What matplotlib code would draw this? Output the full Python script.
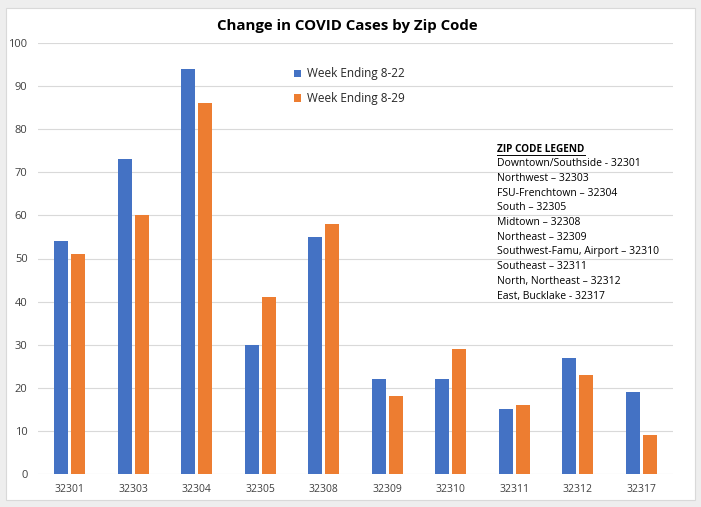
import matplotlib
matplotlib.use("Agg")
import matplotlib.pyplot as plt
import numpy as np
from matplotlib.patches import Rectangle

plt.rcParams['font.family'] = ['Open Sans', 'DejaVu Sans']

zips = ["32301", "32303", "32304", "32305", "32308", "32309", "32310", "32311", "32312", "32317"]
week_822 = [54, 73, 94, 30, 55, 22, 22, 15, 27, 19]
week_829 = [51, 60, 86, 41, 58, 18, 29, 16, 23, 9]

zip_legend = [
    "Downtown/Southside - 32301",
    "Northwest \u2013 32303",
    "FSU-Frenchtown \u2013 32304",
    "South \u2013 32305",
    "Midtown \u2013 32308",
    "Northeast \u2013 32309",
    "Southwest-Famu, Airport \u2013 32310",
    "Southeast \u2013 32311",
    "North, Northeast \u2013 32312",
    "East, Bucklake - 32317",
]

blue = "#4472c4"
orange = "#ed7d31"

fig = plt.figure(figsize=(7.01, 5.07), dpi=100)
fig.patch.set_facecolor("#eeeeee")
# white chart panel behind everything
fig.patches.append(Rectangle((6/701, 7/507), 689/701, 492/507, transform=fig.transFigure,
                             facecolor="white", edgecolor="#d9d9d9", lw=0.8, zorder=-5))

ax = fig.add_axes([38/701, 1 - 474/507, 635/701, (474 - 43)/507])
ax.set_facecolor("none")

x = np.arange(len(zips))
w = 0.215
ax.bar(x - 0.135, week_822, w, color=blue, label="Week Ending 8-22", zorder=3)
ax.bar(x + 0.135, week_829, w, color=orange, label="Week Ending 8-29", zorder=3)

ax.set_xlim(-0.5, len(zips) - 0.5)
ax.set_ylim(0, 100)
ax.set_yticks(range(0, 101, 10))
ax.set_xticks(x)
ax.set_xticklabels(zips)
ax.grid(axis="y", color="#d9d9d9", lw=0.8, zorder=0)
ax.set_axisbelow(True)
for s in ax.spines.values():
    s.set_visible(False)
ax.tick_params(length=0, labelsize=7.5, colors="#404040")
ax.tick_params(axis="y", labelsize=8)
ax.tick_params(axis="x", pad=7)
ax.tick_params(axis="y", pad=7.5)

fig.text(0.495, 1 - 26/507, "Change in COVID Cases by Zip Code", ha="center", va="center",
         fontsize=10.8, fontweight="bold", color="#000000")

leg = ax.legend(loc="upper left", bbox_to_anchor=(0.386, 0.968), frameon=False,
                fontsize=8.5, handlelength=0.6, handleheight=0.6, handletextpad=0.5,
                labelspacing=1.0)
for t in leg.get_texts():
    t.set_color("#262626")

y0 = 1 - 149/507
fig.text(497/701, y0, "ZIP CODE LEGEND", fontsize=7.2, fontweight="bold", va="center",
         color="#000000")
ul_y = y0 - 6/507
fig.lines.append(plt.Line2D([497/701, 585/701], [ul_y, ul_y], transform=fig.transFigure,
                            color="black", lw=0.7))
for i, s in enumerate(zip_legend):
    fig.text(497/701, y0 - (i + 1) * 14.7/507, s, fontsize=7.5, va="center", color="#000000")

fig.savefig("out.png", dpi=100, facecolor=fig.get_facecolor())
